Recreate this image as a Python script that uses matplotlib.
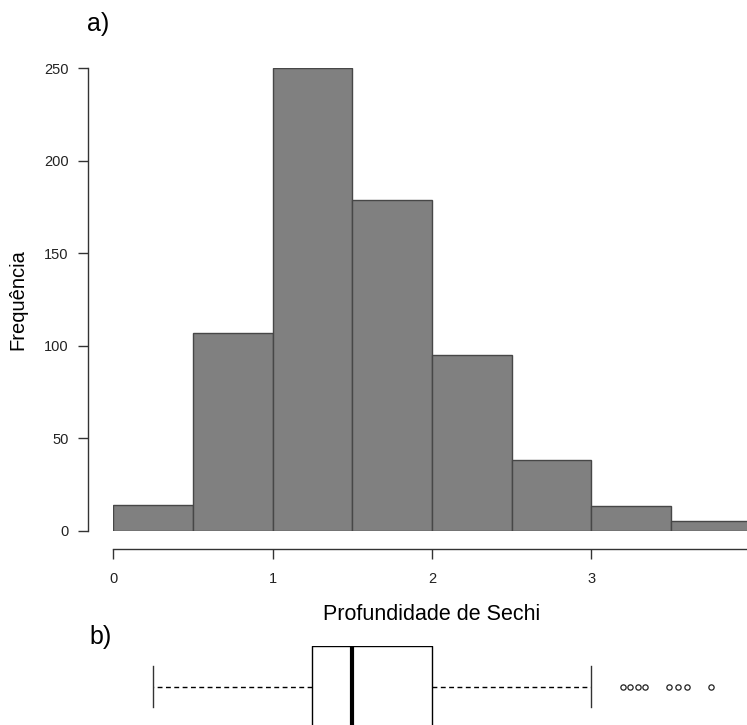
import matplotlib
matplotlib.use("Agg")
import matplotlib.pyplot as plt

plt.rcParams['font.family'] = ['Liberation Sans', 'DejaVu Sans']

# histograma da profundidade de Secchi
bin_edges = [0.0, 0.5, 1.0, 1.5, 2.0, 2.5, 3.0, 3.5, 4.0]
freq = [14, 107, 250, 179, 95, 38, 13, 5]
y_ticks = [0, 50, 100, 150, 200, 250]
x_ticks = [0, 1, 2, 3, 4]

# resumo do boxplot
box_stats = {
    "whislo": 0.25,
    "q1": 1.25,
    "med": 1.50,
    "q3": 2.00,
    "whishi": 3.00,
    "fliers": [3.20, 3.245, 3.295, 3.34, 3.49, 3.545, 3.60, 3.75],
}

W, H = 747, 725
fig = plt.figure(figsize=(W / 100, H / 100), dpi=100)

left = 113.3 / W
width = 637.2 / W

# ---- a) histograma
ax = fig.add_axes([left, (H - 530.5) / H, width, 462 / H])
widths = [bin_edges[i + 1] - bin_edges[i] for i in range(len(freq))]
ax.bar(bin_edges[:-1], freq, width=widths, align='edge',
       color='#808080', edgecolor='#474747', linewidth=1.0)
ax.set_xlim(0, 4)
ax.set_ylim(0, 250)
for s in ['top', 'right']:
    ax.spines[s].set_visible(False)
ax.spines['left'].set_position(('outward', 18))
ax.spines['bottom'].set_position(('outward', 13))
for s in ['left', 'bottom']:
    ax.spines[s].set_color('#333333')
    ax.spines[s].set_linewidth(1.0)
ax.set_yticks(y_ticks)
ax.set_xticks(x_ticks)
ax.tick_params(axis='both', length=7, width=1.0, color='#333333',
               labelsize=10.5, labelcolor='#222222')
ax.tick_params(axis='y', pad=7)
ax.tick_params(axis='x', pad=10)
ax.set_ylabel('Frequência', fontsize=14.5, labelpad=12)
ax.set_xlabel('Profundidade de Sechi', fontsize=15.5, labelpad=13)

fig.text(87 / W, 1 - 24 / H, 'a)', fontsize=18, ha='left', va='center')
fig.text(89 / W, 1 - 637 / H, 'b)', fontsize=18, ha='left', va='center')

# ---- b) boxplot
bx = fig.add_axes([left, (H - 727.7) / H, width, 82 / H])
bx.bxp([box_stats], positions=[0], widths=[2.0], orientation='horizontal',
       showfliers=True,
       boxprops=dict(color='black', linewidth=1.0),
       medianprops=dict(color='black', linewidth=3.0, solid_capstyle='butt'),
       whiskerprops=dict(color='black', linewidth=1.0, linestyle=(0, (3.5, 2.5))),
       capprops=dict(color='#333333', linewidth=1.0),
       flierprops=dict(marker='o', markerfacecolor='none', markeredgecolor='#222222',
                       markersize=3.8, markeredgewidth=0.9))
bx.set_xlim(0, 4)
bx.set_ylim(-1, 1)
bx.axis('off')

fig.savefig('out.png', dpi=100)
